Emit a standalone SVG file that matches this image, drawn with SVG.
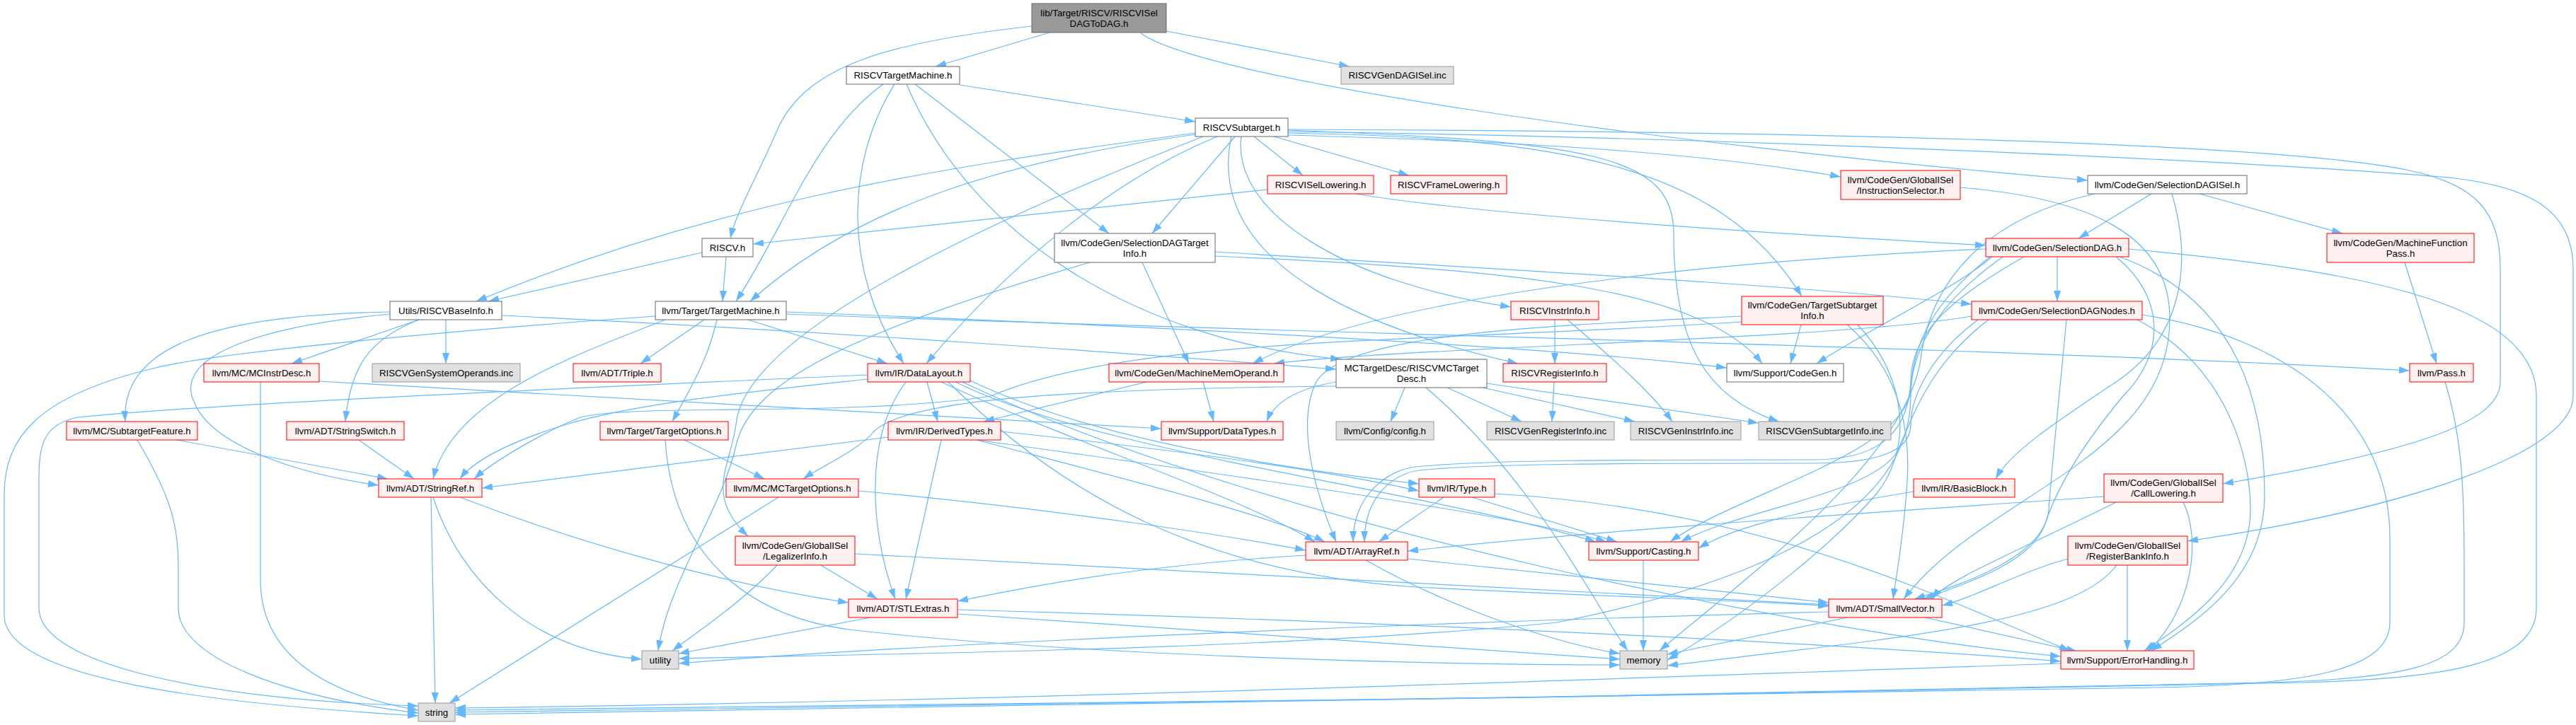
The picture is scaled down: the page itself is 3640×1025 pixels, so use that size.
<svg xmlns="http://www.w3.org/2000/svg" width="3640" height="1025" viewBox="0 0 3640 1025">
<style>
rect{stroke-width:1}
.w rect{fill:#fff;stroke:#666}
.r rect{fill:#fff0f0;stroke:#f00}
.g rect{fill:#e0e0e0;stroke:#999}
.root rect{fill:#999;stroke:#666}
text{font-family:"Liberation Sans",Arial,Helvetica,sans-serif;font-size:13.3px;fill:#000;text-anchor:middle}
#edges path{fill:none;stroke:#63b8ff;stroke-width:1.2;marker-end:url(#ah)}
</style>
<defs>
<marker id="ah" markerUnits="userSpaceOnUse" markerWidth="16" markerHeight="12" viewBox="0 0 16 12" refX="15" refY="5" orient="auto"><path d="M0,0L15,5L0,10z" fill="#63b8ff"/></marker>
</defs>
<rect width="3640" height="1025" fill="#fff"/>
<g id="edges">
<path d="M1458,37 C1250,60 1140,95 1100,180 C1070,250 1040,300 1032,337"/>
<path d="M1483,46 L1322,94"/>
<path d="M1648,44 L1907,94"/>
<path d="M1612,47 C1700,110 2300,200 2950,255"/>
<path d="M1281,119 C1370,330 1600,480 1895,508"/>
<path d="M1356,120 L1689,172"/>
<path d="M1293,119 L1567,330"/>
<path d="M1264,119 C1195,230 1190,380 1277,514"/>
<path d="M1248,119 C1150,190 1110,320 1040,426"/>
<path d="M1800,193 L1991,248"/>
<path d="M1772,193 L1841,248"/>
<path d="M1754,193 C1740,300 1900,400 2135,434"/>
<path d="M1689,188 C1300,240 1000,290 673,426"/>
<path d="M1689,190 C1400,230 1200,300 1060,426"/>
<path d="M1700,193 C1350,330 1050,480 1040,600 C1032,660 995,700 1057,758"/>
<path d="M1720,193 C1580,250 1430,370 1309,514"/>
<path d="M1745,193 L1628,330"/>
<path d="M1820,188 C2200,195 2430,230 2546,419"/>
<path d="M1820,191 C2150,200 2400,215 2601,250"/>
<path d="M1820,183 C2500,185 3200,200 3400,240 C3500,260 3533,300 3533,380 L3533,540 C3533,600 3400,640 3141,684"/>
<path d="M1820,186 C2500,195 3200,230 3450,250 C3580,262 3636,300 3636,380 L3636,560 C3636,640 3400,720 3091,765"/>
<path d="M1820,184 C2250,200 2365,220 2365,330 C2365,470 2400,560 2514,596"/>
<path d="M1740,193 C1700,380 1950,470 2145,514"/>
<path d="M1791,268 L1064,345"/>
<path d="M1916,274 C2100,305 2500,330 2806,347"/>
<path d="M2770,265 C2950,280 3066,330 3066,450 C3066,650 2800,700 2690,847"/>
<path d="M3108,274 L3310,330"/>
<path d="M3040,274 L2937,337"/>
<path d="M3069,274 C3100,380 3080,480 2990,540 C2900,600 2840,640 2820,677"/>
<path d="M2960,274 C2800,310 2730,400 2715,500 C2700,650 2450,830 2345,920"/>
<path d="M992,357 L690,426"/>
<path d="M1026,363 L1021,426"/>
<path d="M1614,371 L1680,514"/>
<path d="M1717,356 C2100,380 2500,400 2786,430"/>
<path d="M1717,362 C2100,380 2400,400 2490,514"/>
<path d="M1540,371 C1200,470 1060,540 1040,630 C1020,720 945,820 930,920"/>
<path d="M2806,352 C2400,370 1950,420 1770,514"/>
<path d="M2907,363 L2907,426"/>
<path d="M2860,363 C2760,420 2700,470 2700,540 C2695,625 2640,650 2560,650 C2300,650 2100,650 2000,660 C1960,665 1912,700 1912,766"/>
<path d="M2990,363 C3060,420 3060,500 3000,560 C2950,620 2910,680 2890,740 C2870,800 2760,830 2718,847"/>
<path d="M2830,363 C2750,420 2705,480 2700,550 C2695,640 2450,700 2360,766"/>
<path d="M2815,363 C2760,410 2650,460 2567,514"/>
<path d="M2995,363 C3150,420 3200,550 3200,700 C3200,820 3100,880 3040,920"/>
<path d="M3008,352 C3300,380 3584,420 3584,560 L3584,860 C3584,940 3450,960 3250,965 C2400,985 1200,1000 643,1010"/>
<path d="M2812,363 C2740,420 2700,480 2700,560 C2700,720 2500,820 2200,880 C1800,920 1200,925 959,931"/>
<path d="M3398,371 L3443,514"/>
<path d="M709,446 C1200,470 1600,500 1888,522"/>
<path d="M551,444 C380,460 240,500 275,570 C300,630 420,670 535,686"/>
<path d="M592,452 C520,480 495,520 488,596"/>
<path d="M592,452 L412,514"/>
<path d="M551,441 C300,445 170,490 177,596"/>
<path d="M630,452 L630,514"/>
<path d="M940,452 C820,500 640,560 612,677"/>
<path d="M995,452 L905,514"/>
<path d="M1057,452 L1254,514"/>
<path d="M1111,444 C1800,470 2800,490 3405,524"/>
<path d="M1111,441 C1600,460 2200,490 2440,520"/>
<path d="M1013,452 C1000,510 975,550 950,596"/>
<path d="M926,447 C600,470 300,500 220,520 C50,560 6,620 6,700 L6,870 C6,960 300,995 591,1012"/>
<path d="M2197,452 L2197,514"/>
<path d="M2215,452 C2270,500 2330,550 2363,596"/>
<path d="M2461,447 C2200,460 1900,470 1860,540 C1830,600 1860,700 1888,766"/>
<path d="M2610,459 C2680,520 2700,600 2695,680 C2690,760 2680,810 2675,847"/>
<path d="M2461,455 C2000,485 1600,475 1400,560 C1200,590 900,570 820,590 C770,610 700,650 670,677"/>
<path d="M2545,459 L2530,514"/>
<path d="M2625,459 C2700,540 2700,640 2650,700 C2580,780 2450,880 2356,933"/>
<path d="M2795,452 C2730,500 2700,560 2700,600 C2700,640 2650,655 2560,655 C2300,655 2100,655 2005,665 C1970,670 1928,700 1928,766"/>
<path d="M2920,452 C2910,560 2900,650 2895,720 C2890,790 2760,830 2705,847"/>
<path d="M2786,447 C2600,480 2000,490 1800,514"/>
<path d="M2810,452 C2720,520 2700,600 2680,640 C2640,700 2460,720 2375,766"/>
<path d="M3020,452 C3150,520 3180,650 3180,720 C3180,820 3090,880 3030,920"/>
<path d="M3027,445 C3250,480 3377,600 3377,760 L3377,880 C3377,950 3250,968 3050,972 C2300,985 1200,1000 643,1004"/>
<path d="M368,540 L368,820 C368,920 450,980 591,1004"/>
<path d="M451,539 L1641,606"/>
<path d="M1330,540 C1500,620 1750,700 1858,766"/>
<path d="M1280,540 C1220,620 1230,750 1265,847"/>
<path d="M1340,540 C1500,700 1700,810 2000,830 C2300,845 2500,850 2584,857"/>
<path d="M1226,536 C1050,555 900,570 800,600 C720,625 670,650 650,677"/>
<path d="M1310,540 L1325,596"/>
<path d="M1371,538 C1500,600 1700,650 2005,684"/>
<path d="M1350,540 C1550,640 2000,690 2255,766"/>
<path d="M1360,540 C1800,750 2600,900 2912,928"/>
<path d="M1226,530 C900,545 300,570 110,590 C60,600 55,630 55,680 L55,860 C55,940 300,990 591,998"/>
<path d="M1620,540 L1390,596"/>
<path d="M1700,540 L1715,596"/>
<path d="M1985,548 L1965,596"/>
<path d="M1888,546 C1500,550 1280,565 1235,610 C1215,635 1160,660 1135,677"/>
<path d="M1888,540 C1830,550 1800,570 1790,596"/>
<path d="M2015,548 C2170,680 2250,850 2300,920"/>
<path d="M2045,548 L2150,596"/>
<path d="M2095,548 L2310,596"/>
<path d="M2101,542 L2485,598"/>
<path d="M2196,540 L2193,596"/>
<path d="M3455,540 C3480,620 3482,700 3482,800 L3482,880 C3482,940 3400,960 3200,965 C2400,985 1200,1000 643,1007"/>
<path d="M250,622 L548,677"/>
<path d="M194,622 C240,700 252,740 252,800 L252,860 C252,930 400,985 591,1008"/>
<path d="M507,622 L585,677"/>
<path d="M967,622 L1080,677"/>
<path d="M940,622 C950,780 1050,870 1200,890 C1500,925 2000,940 2289,940"/>
<path d="M1380,622 C1600,680 1800,730 1872,766"/>
<path d="M1330,622 L1280,847"/>
<path d="M1255,618 L681,690"/>
<path d="M1414,610 C1700,640 1900,670 2005,694"/>
<path d="M1380,622 C1800,680 2150,730 2270,766"/>
<path d="M650,703 C850,780 1050,830 1199,852"/>
<path d="M609,703 L615,994"/>
<path d="M612,703 C650,820 750,920 907,932"/>
<path d="M1213,694 C1500,720 1750,760 1845,778"/>
<path d="M1100,703 L635,994"/>
<path d="M2040,703 L1948,766"/>
<path d="M2080,703 L2285,766"/>
<path d="M2112,698 C2500,720 2750,850 2925,920"/>
<path d="M2704,695 C2550,720 2450,745 2400,775"/>
<path d="M2973,702 C2800,715 2300,745 1989,779"/>
<path d="M2990,710 C2850,780 2750,820 2730,847"/>
<path d="M3085,710 C3110,760 3100,860 3035,921"/>
<path d="M1160,799 L1240,847"/>
<path d="M1208,783 C1800,810 2300,840 2584,855"/>
<path d="M1098,799 C1050,850 990,890 950,920"/>
<path d="M1989,790 L2584,852"/>
<path d="M1845,785 C1600,800 1450,830 1353,850"/>
<path d="M1930,792 C2050,860 2200,910 2289,924"/>
<path d="M2322,792 L2322,920"/>
<path d="M2922,790 C2850,810 2790,845 2744,856"/>
<path d="M3006,799 L3006,920"/>
<path d="M2991,799 C2930,880 2700,900 2356,941"/>
<path d="M1353,862 C2000,880 2600,910 2912,935"/>
<path d="M1353,868 C1800,900 2100,920 2289,932"/>
<path d="M1230,873 L959,924"/>
<path d="M2720,873 L2935,921"/>
<path d="M2610,873 L2356,925"/>
<path d="M2584,865 C2000,880 1300,910 959,938"/>
<path d="M2912,938 C2400,955 1500,990 643,1001"/>
</g>
<g id="n0" class="root"><rect x="1458" y="5" width="190" height="41"/><text x="1553" y="22.5">lib/Target/RISCV/RISCVISel</text><text x="1553" y="37.5">DAGToDAG.h</text></g>
<g id="n1" class="w"><rect x="1196" y="94" width="160" height="25"/><text x="1276" y="111">RISCVTargetMachine.h</text></g>
<g id="n2" class="g"><rect x="1895" y="94" width="159" height="25"/><text x="1974.5" y="111">RISCVGenDAGISel.inc</text></g>
<g id="n3" class="w"><rect x="1689" y="167" width="131" height="26"/><text x="1754.5" y="184.5">RISCVSubtarget.h</text></g>
<g id="n4" class="r"><rect x="1791" y="248" width="150" height="26"/><text x="1866" y="265.5">RISCVISelLowering.h</text></g>
<g id="n5" class="r"><rect x="1965" y="248" width="164" height="26"/><text x="2047" y="265.5">RISCVFrameLowering.h</text></g>
<g id="n6" class="r"><rect x="2601" y="241" width="169" height="41"/><text x="2685.5" y="258.5">llvm/CodeGen/GlobalISel</text><text x="2685.5" y="273.5">/InstructionSelector.h</text></g>
<g id="n7" class="w"><rect x="2950" y="248" width="225" height="26"/><text x="3062.5" y="265.5">llvm/CodeGen/SelectionDAGISel.h</text></g>
<g id="n8" class="w"><rect x="992" y="337" width="72" height="26"/><text x="1028" y="354.5">RISCV.h</text></g>
<g id="n9" class="w"><rect x="1490" y="330" width="227" height="41"/><text x="1603.5" y="347.5">llvm/CodeGen/SelectionDAGTarget</text><text x="1603.5" y="362.5">Info.h</text></g>
<g id="n10" class="r"><rect x="2806" y="337" width="202" height="26"/><text x="2907" y="354.5">llvm/CodeGen/SelectionDAG.h</text></g>
<g id="n11" class="r"><rect x="3288" y="330" width="208" height="41"/><text x="3392" y="347.5">llvm/CodeGen/MachineFunction</text><text x="3392" y="362.5">Pass.h</text></g>
<g id="n12" class="w"><rect x="551" y="426" width="158" height="26"/><text x="630" y="443.5">Utils/RISCVBaseInfo.h</text></g>
<g id="n13" class="w"><rect x="926" y="426" width="185" height="26"/><text x="1018.5" y="443.5">llvm/Target/TargetMachine.h</text></g>
<g id="n14" class="r"><rect x="2135" y="426" width="124" height="26"/><text x="2197" y="443.5">RISCVInstrInfo.h</text></g>
<g id="n15" class="r"><rect x="2461" y="419" width="200" height="40"/><text x="2561" y="436">llvm/CodeGen/TargetSubtarget</text><text x="2561" y="451">Info.h</text></g>
<g id="n16" class="r"><rect x="2786" y="426" width="241" height="26"/><text x="2906.5" y="443.5">llvm/CodeGen/SelectionDAGNodes.h</text></g>
<g id="n17" class="r"><rect x="288" y="514" width="163" height="26"/><text x="369.5" y="531.5">llvm/MC/MCInstrDesc.h</text></g>
<g id="n18" class="g"><rect x="526" y="514" width="209" height="26"/><text x="630.5" y="531.5">RISCVGenSystemOperands.inc</text></g>
<g id="n19" class="r"><rect x="810" y="514" width="124" height="26"/><text x="872" y="531.5">llvm/ADT/Triple.h</text></g>
<g id="n20" class="r"><rect x="1226" y="514" width="145" height="26"/><text x="1298.5" y="531.5">llvm/IR/DataLayout.h</text></g>
<g id="n21" class="r"><rect x="1567" y="514" width="247" height="26"/><text x="1690.5" y="531.5">llvm/CodeGen/MachineMemOperand.h</text></g>
<g id="n22" class="w"><rect x="1888" y="508" width="213" height="40"/><text x="1994.5" y="525">MCTargetDesc/RISCVMCTarget</text><text x="1994.5" y="540">Desc.h</text></g>
<g id="n23" class="r"><rect x="2124" y="514" width="146" height="26"/><text x="2197" y="531.5">RISCVRegisterInfo.h</text></g>
<g id="n24" class="w"><rect x="2440" y="514" width="165" height="26"/><text x="2522.5" y="531.5">llvm/Support/CodeGen.h</text></g>
<g id="n25" class="r"><rect x="3405" y="514" width="90" height="26"/><text x="3450" y="531.5">llvm/Pass.h</text></g>
<g id="n26" class="r"><rect x="94" y="596" width="185" height="26"/><text x="186.5" y="613.5">llvm/MC/SubtargetFeature.h</text></g>
<g id="n27" class="r"><rect x="405" y="596" width="166" height="26"/><text x="488" y="613.5">llvm/ADT/StringSwitch.h</text></g>
<g id="n28" class="r"><rect x="848" y="596" width="181" height="26"/><text x="938.5" y="613.5">llvm/Target/TargetOptions.h</text></g>
<g id="n29" class="r"><rect x="1255" y="596" width="159" height="26"/><text x="1334.5" y="613.5">llvm/IR/DerivedTypes.h</text></g>
<g id="n30" class="r"><rect x="1641" y="596" width="172" height="26"/><text x="1727" y="613.5">llvm/Support/DataTypes.h</text></g>
<g id="n31" class="g"><rect x="1888" y="596" width="138" height="26"/><text x="1957" y="613.5">llvm/Config/config.h</text></g>
<g id="n32" class="g"><rect x="2101" y="596" width="180" height="26"/><text x="2191" y="613.5">RISCVGenRegisterInfo.inc</text></g>
<g id="n33" class="g"><rect x="2304" y="596" width="156" height="26"/><text x="2382" y="613.5">RISCVGenInstrInfo.inc</text></g>
<g id="n34" class="g"><rect x="2485" y="596" width="187" height="26"/><text x="2578.5" y="613.5">RISCVGenSubtargetInfo.inc</text></g>
<g id="n35" class="r"><rect x="535" y="677" width="146" height="26"/><text x="608" y="694.5">llvm/ADT/StringRef.h</text></g>
<g id="n36" class="r"><rect x="1026" y="677" width="187" height="26"/><text x="1119.5" y="694.5">llvm/MC/MCTargetOptions.h</text></g>
<g id="n37" class="r"><rect x="2005" y="677" width="107" height="26"/><text x="2058.5" y="694.5">llvm/IR/Type.h</text></g>
<g id="n38" class="r"><rect x="2704" y="677" width="143" height="26"/><text x="2775.5" y="694.5">llvm/IR/BasicBlock.h</text></g>
<g id="n39" class="r"><rect x="2973" y="670" width="168" height="40"/><text x="3057" y="687">llvm/CodeGen/GlobalISel</text><text x="3057" y="702">/CallLowering.h</text></g>
<g id="n40" class="r"><rect x="1039" y="758" width="169" height="41"/><text x="1123.5" y="775.5">llvm/CodeGen/GlobalISel</text><text x="1123.5" y="790.5">/LegalizerInfo.h</text></g>
<g id="n41" class="r"><rect x="1845" y="766" width="144" height="26"/><text x="1917" y="783.5">llvm/ADT/ArrayRef.h</text></g>
<g id="n42" class="r"><rect x="2245" y="766" width="155" height="26"/><text x="2322.5" y="783.5">llvm/Support/Casting.h</text></g>
<g id="n43" class="r"><rect x="2922" y="758" width="169" height="41"/><text x="3006.5" y="775.5">llvm/CodeGen/GlobalISel</text><text x="3006.5" y="790.5">/RegisterBankInfo.h</text></g>
<g id="n44" class="r"><rect x="1199" y="847" width="154" height="26"/><text x="1276" y="864.5">llvm/ADT/STLExtras.h</text></g>
<g id="n45" class="r"><rect x="2584" y="847" width="160" height="26"/><text x="2664" y="864.5">llvm/ADT/SmallVector.h</text></g>
<g id="n46" class="g"><rect x="907" y="920" width="52" height="26"/><text x="933" y="937.5">utility</text></g>
<g id="n47" class="g"><rect x="2289" y="920" width="67" height="26"/><text x="2322.5" y="937.5">memory</text></g>
<g id="n48" class="r"><rect x="2912" y="920" width="188" height="26"/><text x="3006" y="937.5">llvm/Support/ErrorHandling.h</text></g>
<g id="n49" class="g"><rect x="591" y="994" width="52" height="26"/><text x="617" y="1011.5">string</text></g>
</svg>
